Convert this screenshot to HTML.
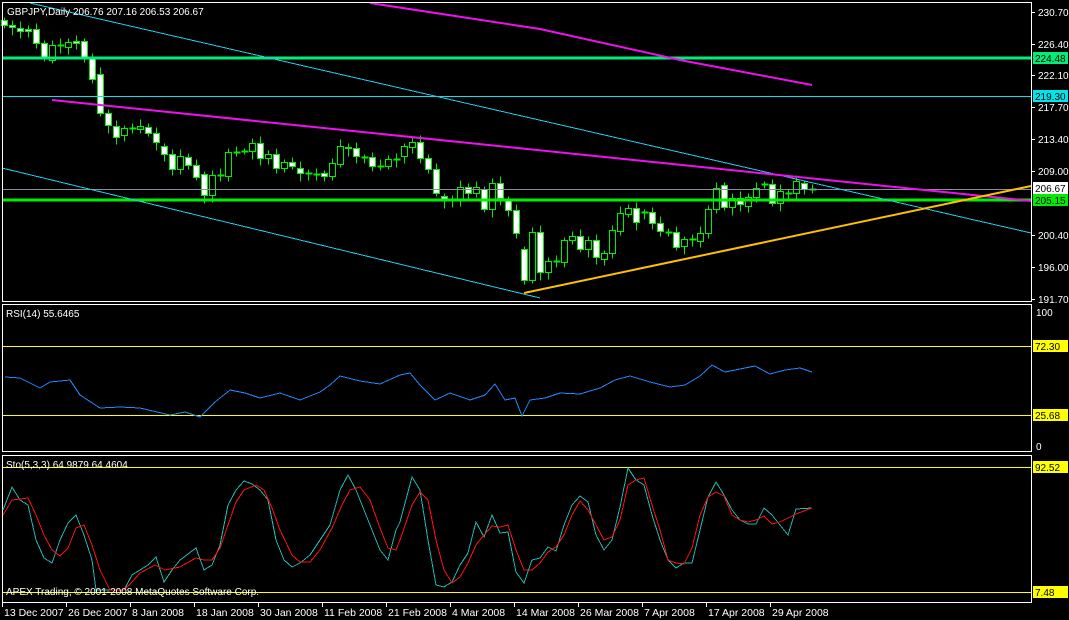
<!DOCTYPE html>
<html><head><meta charset="utf-8"><style>
html,body{margin:0;padding:0;background:#000;}
svg{display:block}
text{font-family:"Liberation Sans",sans-serif;font-size:10px;fill:#fff}
.h{shape-rendering:crispEdges}
</style></head><body>
<svg id="s" width="1069" height="620" xmlns="http://www.w3.org/2000/svg">
<rect width="1069" height="620" fill="#000"/>
<g id="cd" class="h"></g>
<line class="h" x1="2" y1="58" x2="1031" y2="58" stroke="#00ee77" stroke-width="3"/>
<line class="h" x1="2" y1="96.5" x2="1031" y2="96.5" stroke="#00e5ee" stroke-width="1"/>
<line class="h" x1="2" y1="189.5" x2="1031" y2="189.5" stroke="#8890a0" stroke-width="1"/>
<line class="h" x1="2" y1="200" x2="1031" y2="200" stroke="#00ee00" stroke-width="3"/>
<line x1="30" y1="3" x2="1031" y2="233" stroke="#22ccee" stroke-width="1" shape-rendering="crispEdges"/>
<line x1="2" y1="168" x2="540" y2="298" stroke="#22ccee" stroke-width="1" shape-rendering="crispEdges"/>
<polyline points="370,3 540,29 680,60 812,85" fill="none" stroke="#ee11ee" stroke-width="2"/>
<line x1="52" y1="100" x2="1031" y2="201" stroke="#ee11ee" stroke-width="2"/>
<line x1="524" y1="293" x2="1031" y2="186" stroke="#ffc000" stroke-width="2"/>
<g class="h">
<rect x="2.5" y="2.5" width="1029" height="299" fill="none" stroke="#fff"/>
<rect x="2.5" y="304.5" width="1029" height="147" fill="none" stroke="#fff"/>
<rect x="2.5" y="455.5" width="1029" height="147" fill="none" stroke="#fff"/>
<line x1="3" y1="346.5" x2="1031" y2="346.5" stroke="#ffff00"/>
<line x1="3" y1="415.5" x2="1031" y2="415.5" stroke="#ffff00"/>
<line x1="3" y1="467.5" x2="1031" y2="467.5" stroke="#ffff00"/>
<line x1="3" y1="592.5" x2="1031" y2="592.5" stroke="#ffff00"/>
</g>
<polyline fill="none" stroke="#1e88ff" stroke-width="1" shape-rendering="crispEdges" points="5,377 20,378 40,388 50,382 70,380 80,395 100,408 120,407 140,408 170,415 185,412 200,417 215,402 230,390 245,393 260,398 280,393 300,400 320,392 330,385 340,376 360,381 380,384 400,375 410,373 420,385 435,400 450,393 470,400 485,395 495,384 505,400 515,398 522,416 530,400 545,398 560,393 580,394 600,388 615,380 630,376 650,382 670,387 685,385 700,376 712,365 725,372 740,369 755,366 770,374 785,370 800,368 812,372"/>
<polyline fill="none" stroke="#20b8b0" shape-rendering="crispEdges" points="3,510 12,487 20,500 28,505 36,540 44,558 52,563 60,540 68,523 76,515 84,535 92,560 96,590 112,590 124,590 132,575 140,570 148,565 156,557 164,582 172,570 180,560 196,548 204,570 212,565 220,545 228,505 236,490 244,481 252,484 260,490 268,500 276,540 284,560 292,567 300,563 310,555 320,540 330,525 340,490 348,475 356,490 368,520 380,550 388,560 396,530 400,522 412,477 420,490 428,540 436,585 444,587 452,582 460,565 468,553 476,522 484,537 492,515 500,533 508,532 516,572 524,583 532,560 540,558 548,547 556,551 564,525 572,505 580,496 588,502 596,535 604,550 612,540 620,507 628,468 636,480 644,485 652,515 660,540 668,560 676,568 684,563 692,563 700,530 708,497 716,482 724,495 732,510 740,520 748,524 756,524 764,508 772,515 780,525 788,535 796,509 812,508"/>
<polyline fill="none" stroke="#ff1010" shape-rendering="crispEdges" points="3,515 12,500 20,499 28,498 36,515 44,535 52,550 60,556 68,548 76,528 84,525 92,545 100,570 110,590 124,590 132,582 140,573 155,565 165,570 180,567 196,558 204,560 212,560 220,548 236,502 244,490 256,485 264,490 272,508 280,530 292,555 300,562 310,562 320,550 332,528 342,505 350,490 360,487 370,500 380,528 388,548 396,550 400,540 412,505 420,492 428,500 436,540 444,570 452,583 460,577 468,563 476,545 484,535 492,526 500,527 508,525 516,550 524,570 532,570 540,563 548,552 556,547 564,535 572,515 580,501 588,510 596,525 604,540 612,537 620,520 628,485 636,480 644,478 652,505 660,530 668,560 676,563 684,564 692,548 700,515 708,497 716,492 724,496 732,515 740,520 748,522 756,520 764,516 772,524 780,522 788,518 796,514 812,508"/>
<text x="7" y="15">GBPJPY,Daily  206.76 207.16 206.53 206.67</text>
<text x="6" y="317">RSI(14) 55.6465</text>
<text x="6" y="468">Sto(5,3,3) 64.9879 64.4604</text>
<text x="6" y="595">APEX Trading, © 2001-2008 MetaQuotes Software Corp.</text>
<g id="ax"></g>
<g id="dt"></g>
</svg>
<script>
var NS="http://www.w3.org/2000/svg";
function el(p,t,a,tx){var e=document.createElementNS(NS,t);for(var k in a)e.setAttribute(k,a[k]);if(tx!==undefined)e.textContent=tx;p.appendChild(e);return e;}
var C=[[4,20,25,1],[12,25,27,1],[20,28,31,1],[28,29,31,1],[36,29,43,1],[44,43,57,1],[52,45,60,0],[60,45,45,0],[68,42,47,0],[76,41,43,1],[84,41,57,1],[92,58,79,1],[100,74,113,1],[108,113,125,1],[116,126,137,1],[124,128,135,0],[132,128,128,0],[140,126,129,0],[148,127,133,1],[156,133,142,1],[164,146,154,1],[172,154,169,1],[180,156,169,0],[188,157,165,1],[196,165,177,1],[204,174,195,1],[212,175,195,0],[220,175,175,0],[228,152,176,0],[236,152,152,0],[244,151,151,0],[252,143,151,0],[260,143,158,1],[268,154,158,0],[276,154,168,1],[284,162,168,0],[292,162,166,1],[300,168,173,1],[308,173,173,0],[316,174,174,0],[324,173,176,1],[332,163,176,0],[340,146,164,0],[348,147,148,1],[356,148,156,1],[364,157,157,0],[372,157,166,1],[380,166,166,0],[388,159,166,0],[396,159,159,0],[404,146,156,0],[412,142,147,0],[420,142,158,1],[428,158,169,1],[436,169,193,1],[444,196,200,1],[452,200,200,0],[460,187,200,0],[468,187,193,1],[476,187,193,0],[484,189,209,1],[492,183,209,0],[500,183,198,1],[508,200,210,1],[516,210,233,1],[524,249,280,1],[532,232,280,0],[540,232,272,1],[548,261,272,0],[556,261,261,0],[564,240,262,0],[572,236,240,0],[580,236,249,1],[588,240,249,0],[596,240,257,1],[604,253,259,0],[612,230,253,0],[620,213,231,0],[628,208,214,0],[636,208,222,1],[644,212,212,0],[652,212,223,1],[660,223,231,1],[668,232,232,0],[676,232,247,1],[684,239,246,0],[692,239,239,0],[700,233,241,0],[708,209,233,0],[716,188,209,0],[724,185,207,1],[732,198,207,0],[740,198,204,1],[748,197,206,0],[756,188,197,0],[764,184,184,0],[772,184,203,1],[780,191,203,0],[788,193,193,0],[796,181,193,0],[804,183,189,1],[812,189,189,0]];
var g=document.getElementById("cd");
C.forEach(function(c,i){var x=c[0]+0.5,t=c[1]+0.5,b=c[2]+0.5;var up=3+(i*7%5),dn=3+(i*11%6);
el(g,"line",{x1:x,y1:t-up,x2:x,y2:b+dn,stroke:"#00ee00","stroke-width":1});
if(b-t<1)el(g,"line",{x1:x-3,y1:t,x2:x+4,y2:t,stroke:"#00ee00","stroke-width":2});
else el(g,"rect",{x:x-3,y:t,width:6,height:b-t,fill:c[3]?"#fff":"#000",stroke:"#00ee00","stroke-width":1});
});
var ax=document.getElementById("ax");
function tick(y,l){el(ax,"line",{x1:1031,y1:y+0.5,x2:1035,y2:y+0.5,stroke:"#fff"});el(ax,"text",{x:1038,y:y+4},l);}
[[12,"230.70"],[44,"226.40"],[75,"222.10"],[107,"217.70"],[139,"213.40"],[171,"209.00"],[235,"200.40"],[267,"196.00"],[299,"191.70"]].forEach(function(a){tick(a[0],a[1]);});
el(ax,"text",{x:1036,y:316},"100");el(ax,"text",{x:1036,y:450},"0");
function box(y,l,bg,fg){el(ax,"rect",{x:1033,y:y-6,width:35,height:12,fill:bg});el(ax,"text",{x:1035,y:y+4,style:"fill:"+fg},l);}
box(58,"224.48","#00ee77","#000");box(96,"219.30","#00e5ee","#000");box(188,"206.67","#fff","#000");box(200,"205.15","#00ee00","#000");
box(346,"72.30","#ffff00","#000");box(415,"25.68","#ffff00","#000");box(467,"92.52","#ffff00","#000");box(592,"7.48","#ffff00","#000");
var dt=document.getElementById("dt");
["13 Dec 2007","26 Dec 2007","8 Jan 2008","18 Jan 2008","30 Jan 2008","11 Feb 2008","21 Feb 2008","4 Mar 2008","14 Mar 2008","26 Mar 2008","7 Apr 2008","17 Apr 2008","29 Apr 2008"].forEach(function(l,i){var x=2+64*i;el(dt,"line",{x1:x+0.5,y1:603,x2:x+0.5,y2:607,stroke:"#fff"});el(dt,"text",{x:x+2,y:616,style:"font-size:10.5px"},l);});
</script>
</body></html>
